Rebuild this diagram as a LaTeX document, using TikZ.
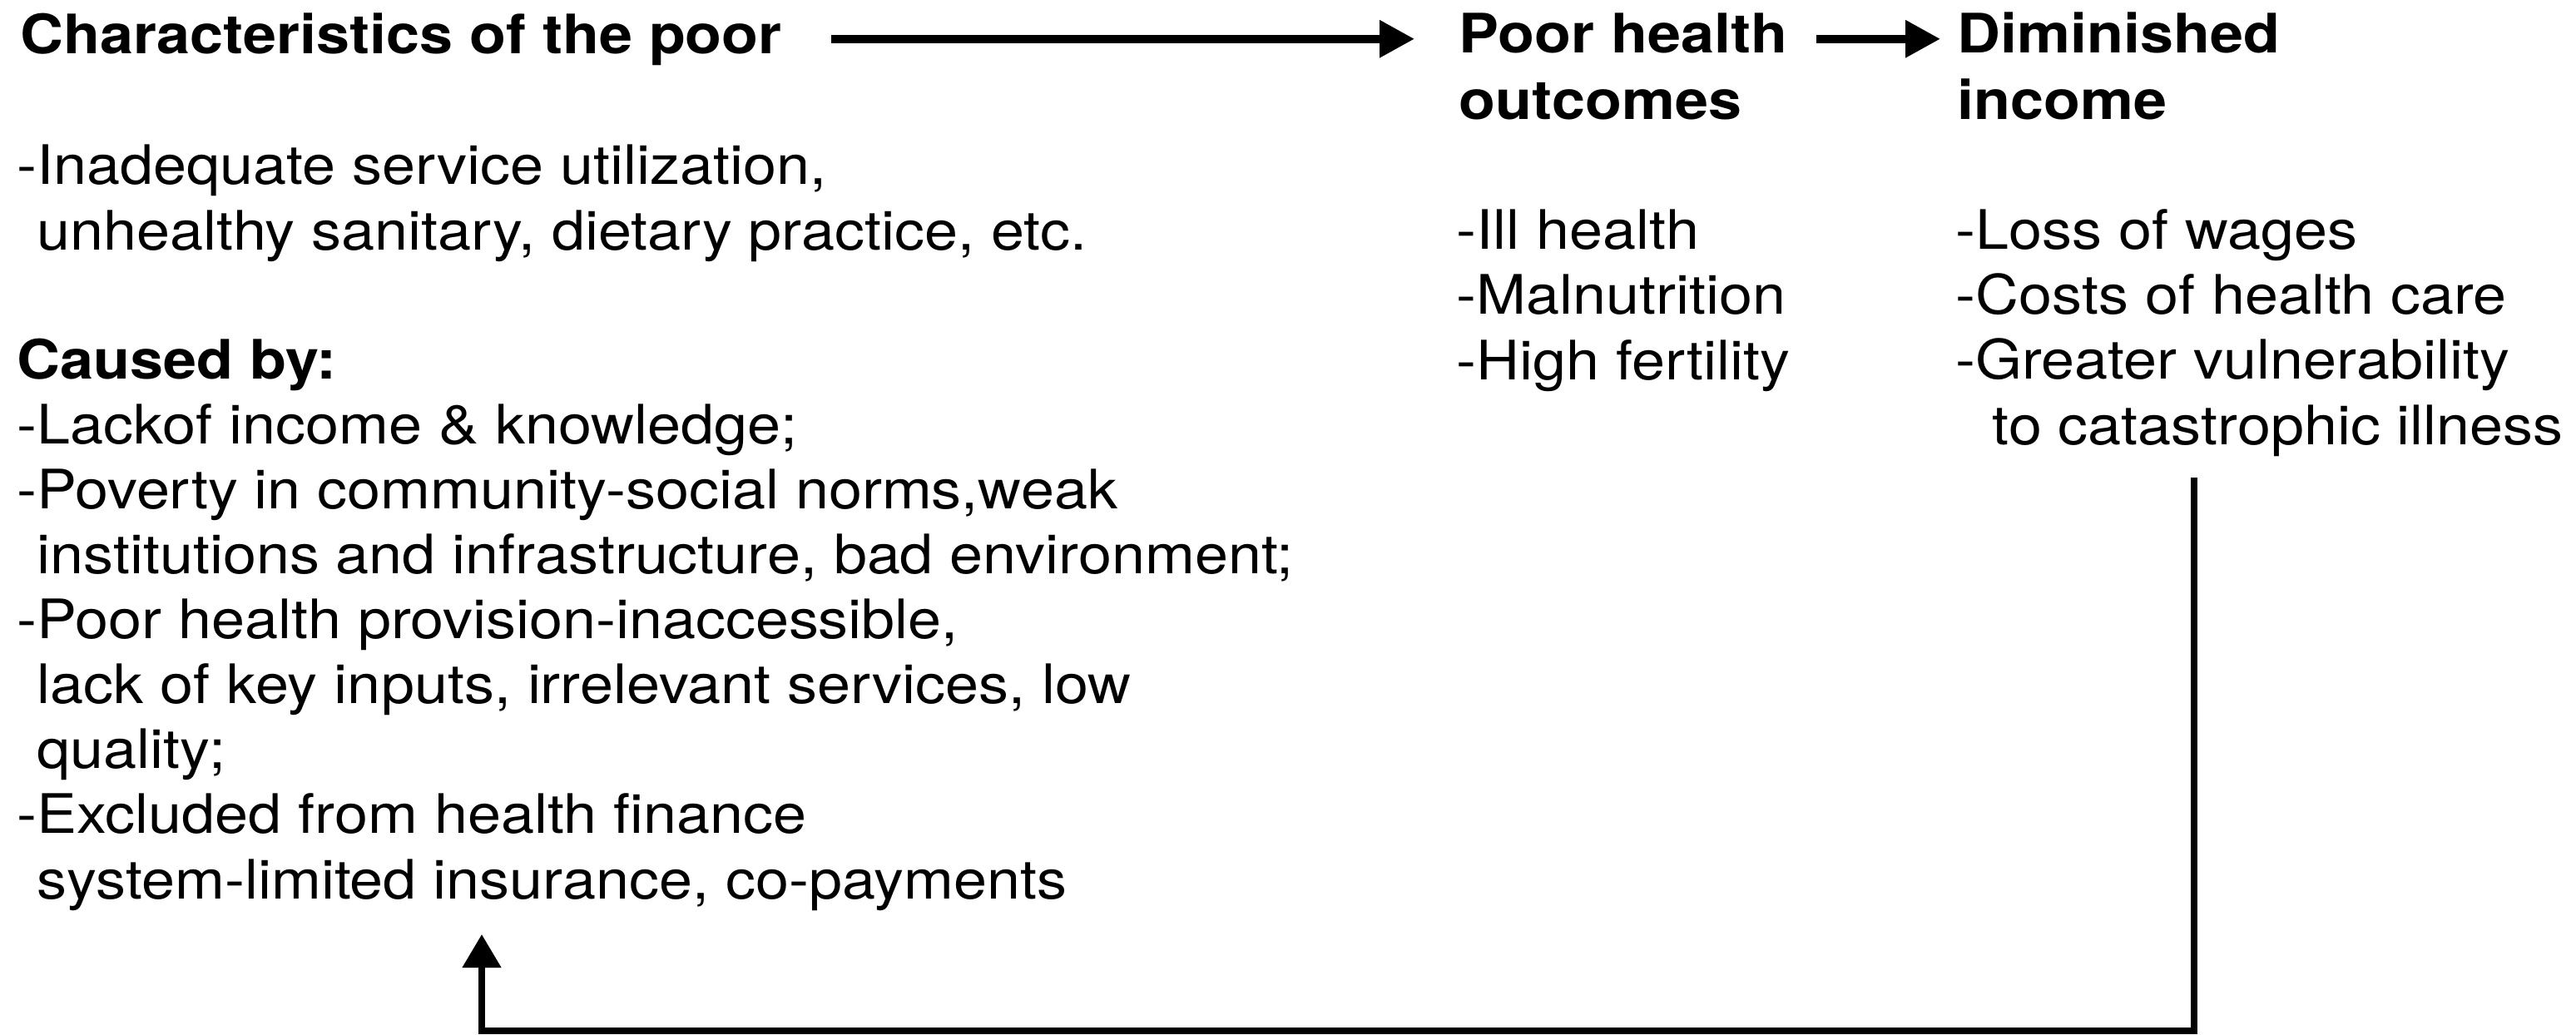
\documentclass[tikz,border=0pt]{standalone}
\usepackage{fontspec}
\setmainfont{TeX Gyre Heros}
\usetikzlibrary{arrows.meta}

\begin{document}
\begin{tikzpicture}[
    every node/.style={anchor=base west, align=left, inner sep=0pt, xscale=1.1,
        font=\fontsize{18.6}{22.2}\selectfont},
    head/.style={font=\fontsize{18.6}{22.8}\selectfont\bfseries},
    arrow/.style={-{Triangle[length=4.2mm, width=4.3mm]}, line width=2.7pt},
    feedback/.style={-{Triangle[length=4mm, width=4.5mm]}, line width=2.2pt}
]
\useasboundingbox (0,0) rectangle (30.96,-12.44);

% base of every block = its last line
\node[head] (poor) at (0.24,-0.64) {Characteristics of the poor};
\node[head] (health) at (17.53,-1.44) {Poor health\\outcomes};
\node[head] (income) at (23.52,-1.44) {Diminished\\income};

\node (practice) at (0.20,-3.00) {-Inadequate service utilization,\\
\phantom{-}unhealthy sanitary, dietary practice, etc.};
\node (caused) at (0.20,-10.80) {\textbf{Caused by:}\\
-Lackof income \& knowledge;\\
-Poverty in community-social norms,weak\\
\phantom{-}institutions and infrastructure, bad environment;\\
-Poor health provision-inaccessible,\\
\phantom{-}lack of key inputs, irrelevant services, low\\
\phantom{-}quality;\\
-Excluded from health finance\\
\phantom{-}system-limited insurance, co-payments};

\node (outcomes) at (17.50,-4.56) {-Ill health\\-Malnutrition\\-High fertility};
\node (losses) at (23.50,-5.34) {-Loss of wages\\-Costs of health care\\
-Greater vulnerability\\\phantom{-}\ to catastrophic illness};

\draw[arrow] ([xshift=5.8mm]poor.east) -- ([xshift=-5.3mm]poor.east -| health.west);
\draw[arrow] ([xshift=3.4mm]health.east |- poor.east) -- ([xshift=-2mm]income.west |- poor.east);

% back to the causes
\coordinate (fromloss) at (26.37,-5.74);
\coordinate (tocause) at (5.79,-11.23);
\draw[feedback] (fromloss) -- ++(0,-6.65) -| (tocause);

\end{tikzpicture}
\end{document}
